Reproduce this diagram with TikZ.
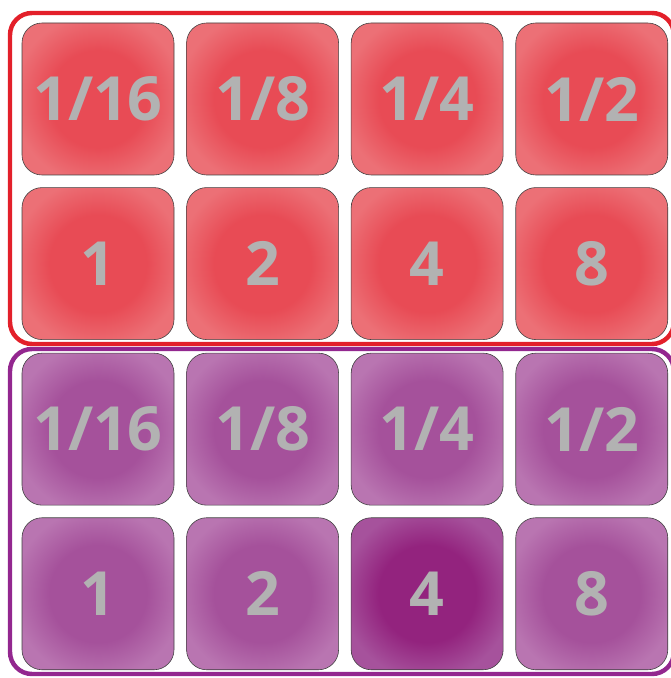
\documentclass[tikz,border=0pt]{standalone}
\usepackage{fontspec}
\setsansfont{Open Sans}
\usepackage{xcolor}
\usepackage{tikz}
\usetikzlibrary{positioning}
\definecolor{myred}{RGB}{227,32,42}
\definecolor{mypurple}{RGB}{147,39,143}
\definecolor{mygray}{RGB}{178,178,178}
\definecolor{redin}{RGB}{232,75,85}
\definecolor{redout}{RGB}{236,112,118}
\definecolor{plumin}{RGB}{165,81,155}
\definecolor{plumout}{RGB}{185,117,177}
\definecolor{deepin}{RGB}{147,35,126}
\definecolor{deepout}{RGB}{166,82,156}
\pgfdeclareradialshading{redshade}{\pgfpointorigin}{color(0bp)=(redin); color(16bp)=(redin); color(28bp)=(redout); color(40bp)=(redout)}
\pgfdeclareradialshading{plumshade}{\pgfpointorigin}{color(0bp)=(plumin); color(16bp)=(plumin); color(28bp)=(plumout); color(40bp)=(plumout)}
\pgfdeclareradialshading{deepshade}{\pgfpointorigin}{color(0bp)=(deepin); color(16bp)=(deepin); color(28bp)=(deepout); color(40bp)=(deepout)}
\tikzset{
  tile/.style={draw=black!75, line width=0.5pt, rounded corners=0.6cm,
               minimum size=4.56cm, inner sep=0pt, text=mygray,
               font=\sffamily\bfseries\fontsize{52}{52}\selectfont},
  redtile/.style={tile, shading=redshade},
  plumtile/.style={tile, shading=plumshade},
  deeptile/.style={tile, shading=deepshade},
  frame/.style={line width=3.8pt, rounded corners=0.66cm}
}

\begin{document}
\begin{tikzpicture}
  \clip (0,0) rectangle (20.13,20.34);
  % red block
  \node[redtile] (r1) at (2.94,17.37) {1/16};
  \node[redtile, right=0.36cm of r1] (r2) {1/8};
  \node[redtile, right=0.36cm of r2] (r3) {1/4};
  \node[redtile, right=0.36cm of r3] (r4) {1/2};
  \node[redtile, below=0.36cm of r1] (r5) {1};
  \node[redtile, right=0.36cm of r5] (r6) {2};
  \node[redtile, right=0.36cm of r6] (r7) {4};
  \node[redtile, right=0.36cm of r7] (r8) {8};
  % purple block
  \node[plumtile, below=0.39cm of r5] (p1) {1/16};
  \node[plumtile, right=0.36cm of p1] (p2) {1/8};
  \node[plumtile, right=0.36cm of p2] (p3) {1/4};
  \node[plumtile, right=0.36cm of p3] (p4) {1/2};
  \node[plumtile, below=0.36cm of p1] (p5) {1};
  \node[plumtile, right=0.36cm of p5] (p6) {2};
  \node[deeptile, right=0.36cm of p6] (p7) {4};
  \node[plumtile, right=0.36cm of p7] (p8) {8};
  % frames
  \draw[frame, myred] (0.3,19.95) rectangle (20.22,10.02);
  \draw[frame, mypurple] (0.3,9.87) rectangle (20.22,0.12);
\end{tikzpicture}
\end{document}
